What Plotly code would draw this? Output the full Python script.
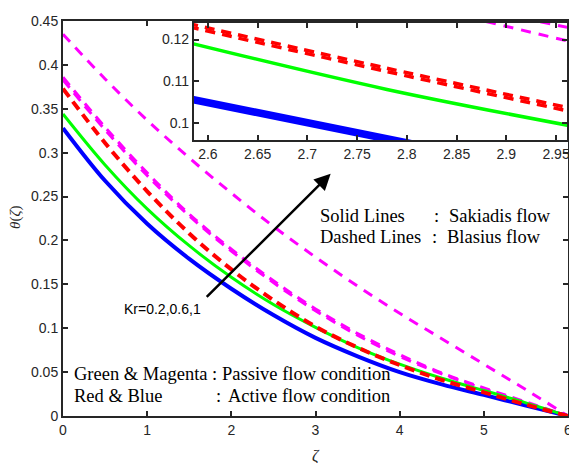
import plotly.graph_objects as go

# ---------------- data ----------------
zeta = [0, 0.5, 1, 1.5, 2, 2.5, 3, 3.5, 4, 4.5, 5, 5.5, 6]

blue_sakiadis_active = [0.328, 0.268, 0.219, 0.179, 0.145, 0.115, 0.089, 0.068, 0.050, 0.036, 0.024, 0.012, 0.0]
green_sakiadis_passive = [0.344, 0.286, 0.236, 0.194, 0.158, 0.127, 0.101, 0.078, 0.059, 0.043, 0.029, 0.015, 0.0]
red_blasius_active = [0.373, 0.311, 0.256, 0.208, 0.167, 0.132, 0.102, 0.078, 0.058, 0.041, 0.027, 0.013, 0.0]
magenta_blasius_passive_a = [0.383, 0.326, 0.274, 0.228, 0.188, 0.152, 0.120, 0.092, 0.068, 0.048, 0.031, 0.015, 0.0]
magenta_blasius_passive_b = [0.386, 0.329, 0.277, 0.230, 0.190, 0.154, 0.122, 0.094, 0.070, 0.049, 0.032, 0.016, 0.0]
magenta_blasius_passive_c = [0.435, 0.384, 0.337, 0.294, 0.254, 0.216, 0.181, 0.148, 0.117, 0.088, 0.059, 0.030, 0.0]

# inset (zoomed) values
inset_x = [2.58, 2.78, 2.97]
inset_blue_1 = [0.1063, 0.0965, 0.0874]
inset_blue_2 = [0.1058, 0.0960, 0.0869]
inset_blue_3 = [0.1053, 0.0955, 0.0864]
inset_green = [0.1193, 0.1080, 0.0990]
inset_red_1 = [0.1239, 0.1131, 0.1032]
inset_red_2 = [0.1231, 0.1123, 0.1024]
inset_magenta_1 = [0.1420, 0.1320, 0.1225]
inset_magenta_2 = [0.1410, 0.1300, 0.1192]

main_xticks = [0, 1, 2, 3, 4, 5, 6]
main_yticks = [0, 0.05, 0.1, 0.15, 0.2, 0.25, 0.3, 0.35, 0.4, 0.4499]
main_yticktext = ["0", "0.05", "0.1", "0.15", "0.2", "0.25", "0.3", "0.35", "0.4", "0.45"]
inset_xticks = [2.6, 2.65, 2.7, 2.75, 2.8, 2.85, 2.9, 2.95]
inset_xticktext = ["2.6", "2.65", "2.7", "2.75", "2.8", "2.85", "2.9", "2.95"]
inset_yticks = [0.1, 0.11, 0.12]
inset_yticktext = ["0.1", "0.11", "0.12"]

BLUE, GREEN, RED, MAGENTA = "#0000FF", "#00FF00", "#FF0000", "#FF00FF"
AX = "#262626"

fig = go.Figure()


def add(x, y, color, width, dash="solid", xa="x", ya="y", shape="spline"):
    fig.add_trace(go.Scatter(x=x, y=y, mode="lines", xaxis=xa, yaxis=ya,
                             line=dict(color=color, width=width, dash=dash,
                                       shape=shape, smoothing=1.0),
                             showlegend=False, hoverinfo="skip"))


# main plot
add(zeta, magenta_blasius_passive_c, MAGENTA, 3, "10px,8px")
add(zeta, magenta_blasius_passive_a, MAGENTA, 3, "10px,7px")
add(zeta, magenta_blasius_passive_b, MAGENTA, 3, "10px,7px")
add(zeta, blue_sakiadis_active, BLUE, 4)
add(zeta, green_sakiadis_passive, GREEN, 3)
add(zeta, red_blasius_active, RED, 4, "10px,6px")

# inset
add(inset_x, inset_magenta_1, MAGENTA, 3, "10px,8px", "x2", "y2", "linear")
add(inset_x, inset_magenta_2, MAGENTA, 3, "10px,8px", "x2", "y2", "linear")
add(inset_x, inset_blue_1, BLUE, 3.5, "solid", "x2", "y2", "linear")
add(inset_x, inset_blue_2, BLUE, 3.5, "solid", "x2", "y2", "linear")
add(inset_x, inset_blue_3, BLUE, 3.5, "solid", "x2", "y2", "linear")
add(inset_x, inset_green, GREEN, 3.5, "solid", "x2", "y2", "spline")
add(inset_x, inset_red_1, RED, 3.5, "10px,7px", "x2", "y2", "spline")
add([inset_x[0] - 0.016] + inset_x[1:], [inset_red_2[0] + 0.0009] + inset_red_2[1:], RED, 3.5,
    "10px,7px", "x2", "y2", "spline")

axis_common = dict(showgrid=False, zeroline=False, showline=True, linecolor=AX, linewidth=2,
                   mirror="ticks", ticks="inside", ticklen=5, tickwidth=1.5, tickcolor=AX,
                   ticklabeloverflow="allow",
                   tickfont=dict(family="Liberation Sans, Arial", size=14, color=AX))

# page body has an 8px margin -> figure is 8px smaller, offsets reduced by 8px
fig.update_layout(
    width=569, height=455,
    margin=dict(l=55, r=5, t=8, b=47),
    paper_bgcolor="white", plot_bgcolor="white",
    xaxis=dict(range=[0, 6], domain=[0, 1], tickvals=main_xticks, anchor="y", **axis_common),
    yaxis=dict(range=[0, 0.45], domain=[0, 1], tickvals=main_yticks, ticktext=main_yticktext,
               anchor="x", **axis_common),
    xaxis2=dict(range=[2.586, 2.961], domain=[0.2593, 0.998], tickvals=inset_xticks,
                ticktext=inset_xticktext, anchor="y2", **axis_common),
    yaxis2=dict(range=[0.0957, 0.124], domain=[0.6975, 0.995], tickvals=inset_yticks,
                ticktext=inset_yticktext, anchor="x2", **axis_common),
)

serif = dict(family="Liberation Serif, Times New Roman", size=18.5, color="black")
texts = [
    ("Solid Lines", 3.047, 0.2284), (":", 4.40, 0.2284), ("Sakiadis flow", 4.573, 0.2284),
    ("Dashed Lines", 3.047, 0.2036), (":", 4.37, 0.2036), ("Blasius flow", 4.553, 0.2036),
    ("Green & Magenta", 0.118, 0.0473), (":", 1.76, 0.0473), ("Passive flow condition", 1.882, 0.0473),
    ("Red & Blue", 0.118, 0.0225), (":", 1.80, 0.0225), ("Active flow condition", 1.953, 0.0225),
]
for t, x, y in texts:
    fig.add_annotation(text=t, x=x, y=y, xref="x", yref="y", xanchor="left", yanchor="middle",
                       showarrow=False, font=serif, borderpad=0)

fig.add_annotation(text="Kr=0.2,0.6,1", x=1.18, y=0.122, xref="x", yref="y", xanchor="center",
                   yanchor="middle", showarrow=False, borderpad=0,
                   font=dict(family="Liberation Sans, Arial", size=14, color="black"))

fig.add_annotation(x=3.18, y=0.276, ax=1.69, ay=0.134, xref="x", yref="y", axref="x", ayref="y",
                   text="", showarrow=True, arrowhead=2, arrowsize=1.3, arrowwidth=2.5,
                   arrowcolor="black")

fig.add_annotation(text="<i>θ</i>(<i>ζ</i>)", x=-0.0943, y=0.5025, xref="paper", yref="paper",
                   textangle=-90, showarrow=False, xanchor="center", yanchor="middle",
                   font=dict(family="Liberation Serif, Times New Roman", size=15, color=AX))
fig.add_annotation(text="<i>ζ</i>", x=0.501, y=-0.1, xref="paper", yref="paper",
                   showarrow=False, xanchor="center", yanchor="middle",
                   font=dict(family="Liberation Serif, Times New Roman", size=16, color=AX))

fig.write_html("out.html")
